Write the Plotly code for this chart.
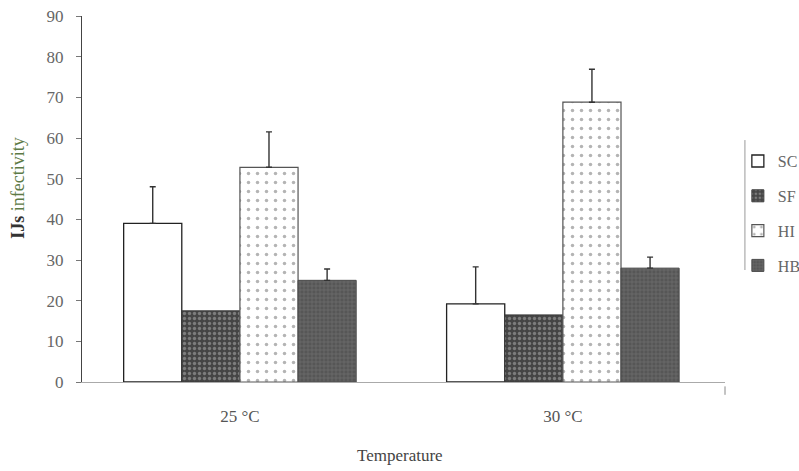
import plotly.graph_objects as go

categories = ["25 °C", "30 °C"]
series_names = ["SC", "SF", "HI", "HB"]
sc_values = [39.0, 19.2]
sc_err = [9.0, 9.1]
sf_values = [17.5, 16.5]
hi_values = [52.8, 68.8]
hi_err = [8.7, 8.1]
hb_values = [25.0, 28.0]
hb_err = [2.8, 2.7]
y_ticks = [0, 10, 20, 30, 40, 50, 60, 70, 80, 90]

FONT = "Liberation Serif"

def err(arr):
    return dict(type="data", symmetric=False, array=arr, arrayminus=[0] * len(arr),
                color="#333333", thickness=1.4, width=3)

fig = go.Figure()
fig.add_trace(go.Bar(
    name=series_names[0], x=categories, y=sc_values, error_y=err(sc_err),
    marker=dict(color="white", line=dict(color="#222222", width=1.3)),
    legendgroup="a"))
fig.add_trace(go.Bar(
    name=series_names[1], x=categories, y=sf_values,
    marker=dict(color="#4a4a4a", line=dict(color="#3a3a3a", width=1),
                pattern=dict(shape=".", fgcolor="#b5b5b5", bgcolor="#454545",
                             size=5, solidity=0.35, fillmode="overlay")),
    legendgroup="b"))
fig.add_trace(go.Bar(
    name=series_names[2], x=categories, y=hi_values, error_y=err(hi_err),
    marker=dict(color="white", line=dict(color="#555555", width=1.2),
                pattern=dict(shape=".", fgcolor="#6a6a6a", bgcolor="white",
                             size=9, solidity=0.12, fillmode="overlay")),
    legendgroup="c"))
fig.add_trace(go.Bar(
    name=series_names[3], x=categories, y=hb_values, error_y=err(hb_err),
    marker=dict(color="#5e5e5e", line=dict(color="#4a4a4a", width=1),
                pattern=dict(shape="+", fgcolor="#7c7c7c", bgcolor="#565656",
                             size=4, solidity=0.4, fillmode="overlay")),
    legendgroup="d"))

fig.update_layout(
    width=799, height=471,
    margin=dict(l=82, r=74, t=16, b=89, autoexpand=False),
    paper_bgcolor="white", plot_bgcolor="white",
    barmode="group", bargap=0.28, bargroupgap=0,
    font=dict(family=FONT, size=16, color="#555555"),
    showlegend=True,
    legend=dict(x=1.02, y=0.65, xanchor="left", yanchor="top",
                font=dict(family=FONT, size=16, color="#666666"),
                tracegroupgap=11, bgcolor="rgba(0,0,0,0)",
                itemclick=False),
    xaxis=dict(type="category", range=[-0.489, 1.502], showline=True,
               linecolor="#aaaaaa", linewidth=1, ticks="", showgrid=False,
               zeroline=False, ticklabelstandoff=19,
               tickfont=dict(family=FONT, size=17, color="#555555")),
    yaxis=dict(range=[0, 90], tickvals=y_ticks, showline=True,
               linecolor="#444444", linewidth=1.2, ticks="outside", ticklen=5,
               tickcolor="#777777", showgrid=False, zeroline=False,
               ticklabelstandoff=9,
               tickfont=dict(family=FONT, size=17, color="#666666")),
    annotations=[
        dict(text="<b>IJs</b> <span style='color:#5d7a45'>infectivity</span>",
             x=-0.1, y=0.53, xref="paper", yref="paper", textangle=-90,
             showarrow=False, xanchor="center", yanchor="middle",
             font=dict(family=FONT, size=18, color="#333333")),
        dict(text="Temperature", x=0.495, y=-0.2, xref="paper", yref="paper",
             showarrow=False, xanchor="center", yanchor="middle",
             font=dict(family=FONT, size=17, color="#444444")),
    ],
    shapes=[
        dict(type="line", xref="paper", yref="paper", x0=1.0, x1=1.0,
             y0=-0.012, y1=-0.035, line=dict(color="#888888", width=1)),
        dict(type="line", xref="paper", yref="paper", x0=1.031, x1=1.031,
             y0=0.306, y1=0.661, line=dict(color="#999999", width=1)),
    ],
)

fig.write_html("out.html")
